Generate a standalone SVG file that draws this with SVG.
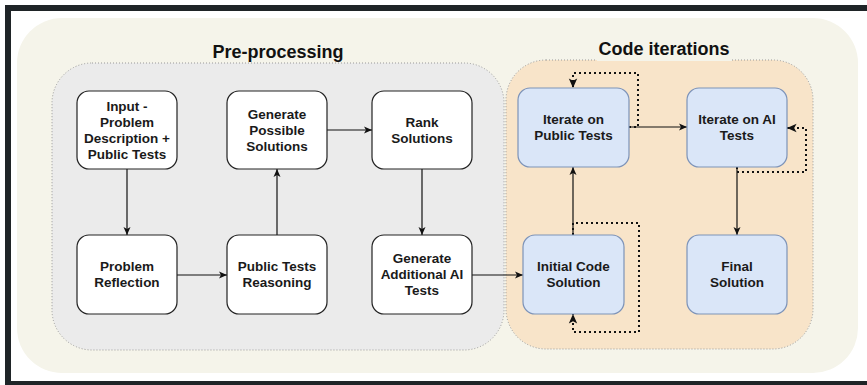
<svg xmlns="http://www.w3.org/2000/svg" width="867" height="385" viewBox="0 0 867 385">
<style>
.frame{fill:#1f2427}
.node{fill:#ffffff;stroke:#222;stroke-width:1.2}
.bnode{fill:#dae6f8;stroke:#7d93b8;stroke-width:1.2}
.t{font-family:"Liberation Sans",Arial,sans-serif;font-weight:bold;font-size:13.5px;fill:#1a1a1a;text-anchor:middle}
.title{font-family:"Liberation Sans",Arial,sans-serif;font-weight:bold;font-size:18px;fill:#111;text-anchor:middle}
.edge{fill:none;stroke:#111;stroke-width:1.2}
.loop{fill:none;stroke:#111;stroke-width:2;stroke-dasharray:2 3}
</style>
<defs>
<marker id="arr" markerUnits="userSpaceOnUse" markerWidth="10" markerHeight="10" viewBox="0 0 10 10" refX="9" refY="5" orient="auto">
<path d="M1,1.5 L9,5 L1,8.5 L3,5 Z" fill="#111"/>
</marker>
<marker id="arr2" markerUnits="userSpaceOnUse" markerWidth="12" markerHeight="12" viewBox="0 0 10 10" refX="9" refY="5" orient="auto">
<path d="M1,1.5 L9,5 L1,8.5 L3,5 Z" fill="#111"/>
</marker>
</defs>
<rect x="0" y="0" width="867" height="385" fill="#ffffff"/>
<rect class="frame" x="5" y="5" width="862" height="6"/>
<rect class="frame" x="5" y="5" width="6" height="380"/>
<rect class="frame" x="5" y="381" width="862" height="4"/>
<rect x="17" y="18" width="841" height="355" rx="45" fill="#f5f4ea"/>
<g id="preprocessing">
<rect x="52" y="63" width="452" height="287" rx="40" fill="#ebebeb" stroke="#999" stroke-width="1" stroke-dasharray="1 2"/>
<text class="title" x="278" y="58">Pre-processing</text>
</g>
<g id="code-iterations">
<rect x="506" y="60" width="307" height="289" rx="40" fill="#f8e4c9" stroke="#999" stroke-width="1" stroke-dasharray="1 2"/>
<rect x="597" y="38" width="135" height="23" fill="#f5f4ea"/>
<text class="title" x="664" y="55">Code iterations</text>
</g>
<g id="connectors">
<path class="edge" d="M127,169 V235" marker-end="url(#arr)"/>
<path class="edge" d="M177,275 H227" marker-end="url(#arr)"/>
<path class="edge" d="M277,235 V169" marker-end="url(#arr)"/>
<path class="edge" d="M327,130 H372" marker-end="url(#arr)"/>
<path class="edge" d="M422,169 V235" marker-end="url(#arr)"/>
<path class="edge" d="M472,275 H523" marker-end="url(#arr)"/>
<path class="edge" d="M573,235 V167" marker-end="url(#arr)"/>
<path class="edge" d="M629,127 H687" marker-end="url(#arr)"/>
<path class="edge" d="M737,167 V235" marker-end="url(#arr)"/>
<path class="loop" d="M629,127 H638 V73 H573 V88" marker-end="url(#arr2)"/>
<path class="loop" d="M737,167 V172 H806 V128 H787" marker-end="url(#arr2)"/>
<path class="loop" d="M573,235 V223 H639 V332 H573 V314" marker-end="url(#arr2)"/>
</g>
<g id="input">
<rect class="node" x="77" y="91" width="100" height="78" rx="12"/>
<text class="t" x="127" y="110.5">Input -</text>
<text class="t" x="127" y="126.5">Problem</text>
<text class="t" x="127" y="142.5">Description +</text>
<text class="t" x="127" y="158.5">Public Tests</text>
</g>
<g id="generate-solutions">
<rect class="node" x="227" y="91" width="100" height="78" rx="12"/>
<text class="t" x="277" y="118.5">Generate</text>
<text class="t" x="277" y="134.5">Possible</text>
<text class="t" x="277" y="150.5">Solutions</text>
</g>
<g id="rank-solutions">
<rect class="node" x="372" y="91" width="100" height="78" rx="12"/>
<text class="t" x="422" y="126.5">Rank</text>
<text class="t" x="422" y="142.5">Solutions</text>
</g>
<g id="problem-reflection">
<rect class="node" x="77" y="235" width="100" height="79" rx="12"/>
<text class="t" x="127" y="271">Problem</text>
<text class="t" x="127" y="287">Reflection</text>
</g>
<g id="public-tests-reasoning">
<rect class="node" x="227" y="235" width="100" height="79" rx="12"/>
<text class="t" x="277" y="271">Public Tests</text>
<text class="t" x="277" y="287">Reasoning</text>
</g>
<g id="generate-ai-tests">
<rect class="node" x="372" y="235" width="100" height="79" rx="12"/>
<text class="t" x="422" y="263">Generate</text>
<text class="t" x="422" y="279">Additional AI</text>
<text class="t" x="422" y="295">Tests</text>
</g>
<g id="iterate-public">
<rect class="bnode" x="518" y="88" width="111" height="79" rx="12"/>
<text class="t" x="573.5" y="124">Iterate on</text>
<text class="t" x="573.5" y="140">Public Tests</text>
</g>
<g id="iterate-ai">
<rect class="bnode" x="687" y="88" width="100" height="79" rx="12"/>
<text class="t" x="737" y="124">Iterate on AI</text>
<text class="t" x="737" y="140">Tests</text>
</g>
<g id="initial-code">
<rect class="bnode" x="523" y="235" width="101" height="79" rx="12"/>
<text class="t" x="573.5" y="271">Initial Code</text>
<text class="t" x="573.5" y="287">Solution</text>
</g>
<g id="final-solution">
<rect class="bnode" x="687" y="235" width="100" height="79" rx="12"/>
<text class="t" x="737" y="271">Final</text>
<text class="t" x="737" y="287">Solution</text>
</g>
</svg>
